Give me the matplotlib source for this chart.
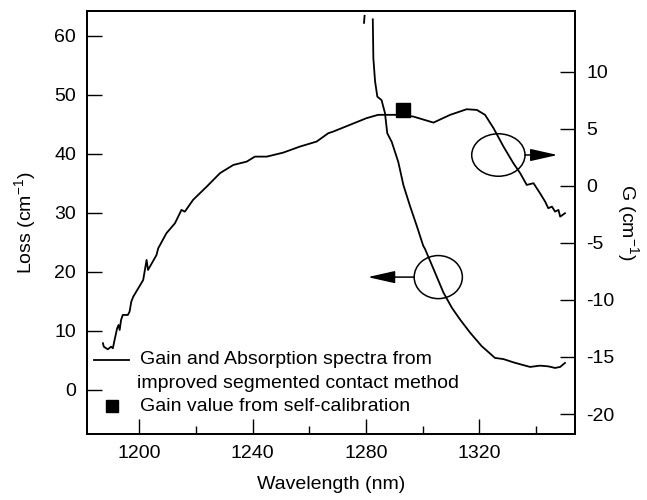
import numpy as np
import matplotlib
matplotlib.use('Agg')
import matplotlib.pyplot as plt
from matplotlib.lines import Line2D
from matplotlib.patches import Ellipse

params = {'font.family': 'Liberation Sans',
          'font.size': 14,
          'mathtext.fontset': 'custom',
          'mathtext.rm': 'Liberation Sans',
          'mathtext.it': 'Liberation Sans',
          'axes.unicode_minus': False,
          'axes.linewidth': 1.3,
          'xtick.direction': 'in',
          'ytick.direction': 'in'}
plt.rcParams.update(params)

# modal gain spectrum, right axis (cm^-1)
gain_wl = [1187.2, 1187.5, 1188.9, 1190.1, 1190.7, 1191.3, 1192.2, 1192.7, 1193.1,
           1193.6, 1194.2, 1196.0, 1196.6, 1197.2, 1197.9, 1201.4, 1202.6, 1203.1,
           1206.1, 1206.7, 1209.6, 1212.6, 1214.9, 1216.1, 1219.0, 1223.8, 1228.5,
           1233.2, 1237.9, 1240.8, 1245.0, 1250.8, 1256.7, 1262.6, 1266.7, 1268.4,
           1274.3, 1280.2, 1284.3, 1290.8, 1296.7, 1303.8, 1309.7, 1315.5, 1319.1,
           1322.0, 1325.0, 1328.5, 1332.0, 1334.4, 1336.7, 1339.1, 1341.4, 1343.2,
           1344.3, 1345.6, 1346.7, 1347.9, 1348.5, 1350.2]
gain_g = [-13.80, -14.10, -14.33, -14.10, -14.24, -13.52, -12.49, -12.20, -12.64,
          -11.76, -11.32, -11.32, -11.03, -10.16, -9.72, -8.26, -6.50, -7.38,
          -6.07, -5.48, -4.16, -3.29, -2.12, -2.27, -1.24, -0.08, 1.10,
          1.82, 2.11, 2.55, 2.55, 2.90, 3.43, 3.87, 4.60, 4.74,
          5.33, 5.92, 6.21, 6.21, 6.06, 5.53, 6.21, 6.70, 6.64,
          6.21, 5.04, 3.43, 1.97, 1.10, 0.07, 0.22, -0.66, -1.39,
          -1.97, -1.83, -2.27, -2.12, -2.71, -2.41]

# absorption (loss) spectrum, left axis (cm^-1); nan = off-scale gap
loss_wl = [1279.3, 1279.5, np.nan, 1282.4, 1282.6, 1283.2, 1284.0, 1285.5,
           1286.7, 1287.5, 1289.1, 1291.4, 1293.2, 1295.5, 1297.9, 1300.2, 1300.8,
           1303.8, 1307.3, 1310.3, 1313.2, 1316.7, 1320.8, 1325.5, 1328.5, 1332.0,
           1334.9, 1337.9, 1341.4, 1344.3, 1346.7, 1348.5, 1350.2]
loss_a = [62.2, 63.4, np.nan, 62.8, 56.2, 52.3, 49.7, 49.1,
          46.9, 43.5, 42.0, 38.6, 34.7, 31.2, 27.8, 24.4, 23.9,
          20.5, 16.5, 13.9, 11.9, 9.7, 7.4, 5.4, 5.2, 4.65,
          4.26, 3.87, 4.09, 3.97, 3.7, 3.87, 4.55]

# gain from self-calibration
cal_wl = [1293.0]
cal_g = [6.6]

fig = plt.figure(figsize=(6.47, 5.0), dpi=100)
ax = fig.add_axes([0.135, 0.132, 0.754, 0.847])
ax2 = ax.twinx()

ax.plot(loss_wl, loss_a, color='black', lw=1.3)
ax2.plot(gain_wl, gain_g, color='black', lw=1.3)
ax2.plot(cal_wl, cal_g, 's', color='black', ms=10.5)

ax.set_xlim(1181.7, 1353.8)
ax.set_ylim(-7.5, 64.3)
ax2.set_ylim(-21.75, 15.35)

ax.set_xticks([1200, 1240, 1280, 1320])
ax.set_xticks([1220, 1260, 1300, 1340], minor=True)
ax.set_yticks(np.arange(0, 61, 10))
ax2.set_yticks(np.arange(-20, 11, 5))
ax.tick_params(axis='x', which='major', length=11, width=1, pad=8)
ax.tick_params(axis='x', which='minor', length=6, width=1)
ax.tick_params(axis='y', length=11, width=1, pad=8)
ax2.tick_params(axis='y', length=11, width=1, pad=8)
for sp in ax2.spines.values():
    sp.set_linewidth(1.3)

ax.set_xlabel('Wavelength (nm)', labelpad=10)
ax.set_ylabel('Loss (cm$^{-1}$)', labelpad=12)
ax2.set_ylabel('G (cm$^{-1}$)', rotation=-90, labelpad=19)

# circles marking which curve belongs to which axis
arrow = dict(arrowstyle='-|>,head_length=1.2,head_width=0.27',
             color='black', lw=1.1, shrinkA=0, shrinkB=0)
ax.add_patch(Ellipse((1326.7, 39.8), 18.8, 7.2, fill=False, lw=1.1, color='black'))
ax.annotate('', xy=(1347.6, 39.8), xytext=(1336.1, 39.8), arrowprops=arrow)
ax.add_patch(Ellipse((1305.5, 19.1), 17.0, 7.3, fill=False, lw=1.1, color='black'))
ax.annotate('', xy=(1280.6, 19.1), xytext=(1297.0, 19.1), arrowprops=arrow)

# legend
ax.add_line(Line2D([0.0133, 0.0851], [0.1748, 0.1748], transform=ax.transAxes,
                   color='black', lw=1.3))
ax.plot([0.0509], [0.0661], 's', color='black', ms=8.5, transform=ax.transAxes)
ax.text(0.1077, 0.1748, 'Gain and Absorption spectra from', transform=ax.transAxes,
        va='center', ha='left')
ax.text(0.1009, 0.1197, 'improved segmented contact method', transform=ax.transAxes,
        va='center', ha='left')
ax.text(0.1077, 0.0661, 'Gain value from self-calibration', transform=ax.transAxes,
        va='center', ha='left')

fig.savefig('out.png', dpi=100)
